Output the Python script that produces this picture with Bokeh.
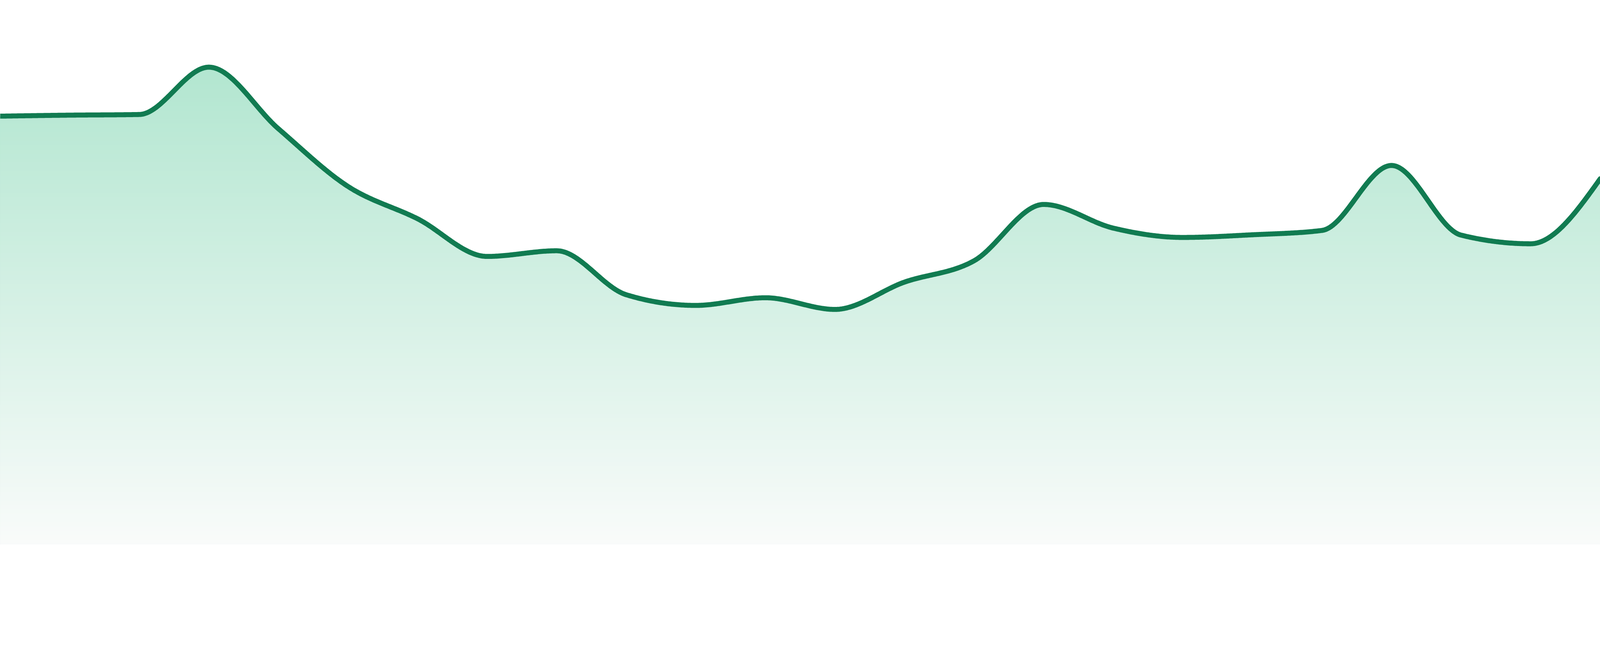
import numpy as np
from bokeh.models import Range1d
from bokeh.plotting import figure
from bokeh.embed import file_html
from bokeh.resources import INLINE

# data: 24 evenly spaced points (pixels above the baseline)
idx = list(range(24))
values = [1284, 1287, 1289, 1431, 1246, 1073, 976, 863, 880, 748, 716, 739,
          704, 786, 850, 1019, 948, 920, 928, 941, 1136, 927, 901, 1096]

line_color = "#117b51"
fill_top = (178, 230, 208)     # colour right under the highest point
fill_bottom = (249, 251, 250)  # colour at the baseline
n_bands = 110

# the photo of the page comes out scaled up (css px -> picture px)
zoom = 4800 / 4096
W, H = 4096, 1434
margin = 0


def monotone_x(x, y, n=60):
    # same smoothing as d3.curveMonotoneX
    x = np.asarray(x, float)
    y = np.asarray(y, float)
    h = np.diff(x)
    s = np.diff(y) / h
    t = np.zeros_like(y)
    for i in range(1, len(y) - 1):
        p = (s[i-1]*h[i] + s[i]*h[i-1]) / (h[i-1] + h[i])
        t[i] = (np.sign(s[i-1]) + np.sign(s[i])) * min(abs(s[i-1]), abs(s[i]), 0.5*abs(p))
    t[0] = (3*s[0] - t[1]) / 2
    t[-1] = (3*s[-1] - t[-2]) / 2
    xs, ys = [], []
    u = np.linspace(0, 1, n, endpoint=False)
    h00 = 2*u**3 - 3*u**2 + 1
    h10 = u**3 - 2*u**2 + u
    h01 = -2*u**3 + 3*u**2
    h11 = u**3 - u**2
    for i in range(len(x) - 1):
        xs.append(x[i] + u*h[i])
        ys.append(h00*y[i] + h10*h[i]*t[i] + h01*y[i+1] + h11*h[i]*t[i+1])
    xs.append([x[-1]])
    ys.append([y[-1]])
    return np.concatenate(xs), np.concatenate(ys)


xs, ys = monotone_x(idx, values)

step = 4800 / 23.0
x0, x1 = margin, margin + W * zoom
y0, y1 = margin, margin + H * zoom
p = figure(width=W, height=H, output_backend="svg", toolbar_location=None,
           x_range=Range1d(x0 / step, x1 / step), y_range=Range1d(1632 - y1, 1632 - y0),
           x_axis_location=None, y_axis_location=None, min_border=0)
p.outline_line_color = None
p.grid.visible = False
p.background_fill_color = "white"
p.border_fill_color = "white"

# vertical gradient under the line, painted as stacked opaque bands (top first)
top = max(values)
for k in range(n_bands - 1, -1, -1):
    hi = top * (k + 1) / n_bands
    frac = (k + 0.5) / n_bands
    c = tuple(int(round(fill_bottom[j] + (fill_top[j] - fill_bottom[j]) * frac)) for j in range(3))
    col = "#%02x%02x%02x" % c
    y2 = ys if k == n_bands - 1 else np.minimum(ys, hi)
    p.varea(x=xs, y1=np.zeros_like(xs), y2=y2, fill_color=col, fill_alpha=1.0)

p.line(xs, ys, line_width=12.8, line_color=line_color, line_join="round", line_cap="round")

open("out.html", "w").write(file_html(p, INLINE))
